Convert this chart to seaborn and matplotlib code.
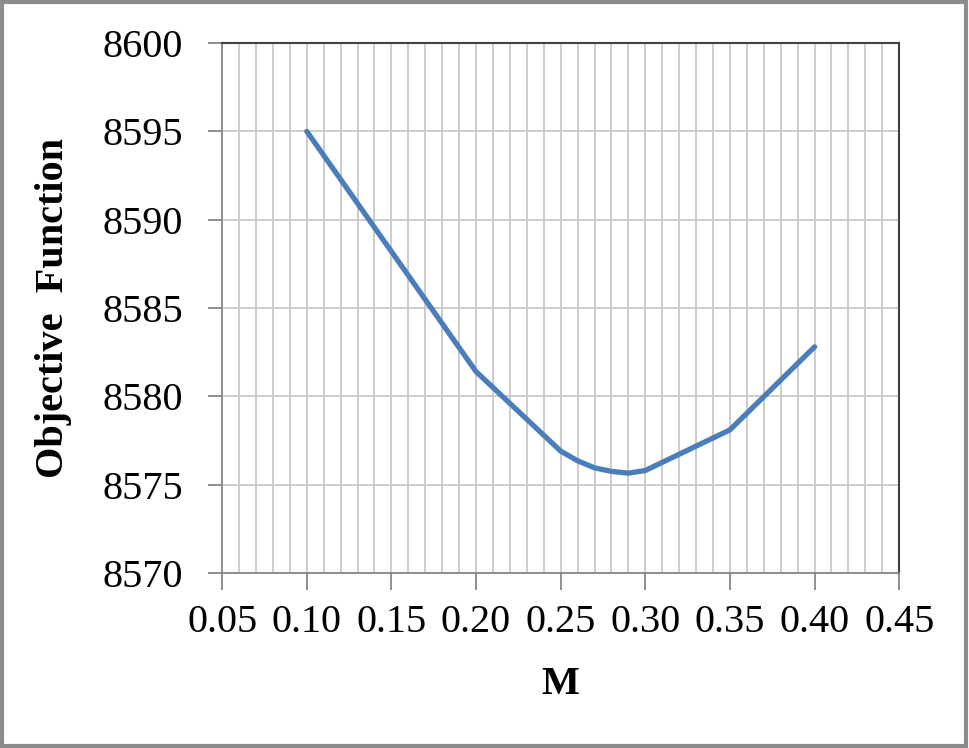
import matplotlib
matplotlib.use("Agg")
import matplotlib.pyplot as plt
import seaborn as sns
import pandas as pd
import numpy as np
from matplotlib.patches import Rectangle

m_values = [0.10, 0.20, 0.25, 0.26, 0.27, 0.28, 0.29, 0.30, 0.35, 0.40]
objective = [8595.0, 8581.4, 8576.9, 8576.35, 8575.95, 8575.75, 8575.65, 8575.8, 8578.1, 8582.8]
x_ticks = [0.05, 0.10, 0.15, 0.20, 0.25, 0.30, 0.35, 0.40, 0.45]
y_ticks = [8570, 8575, 8580, 8585, 8590, 8595, 8600]

df = pd.DataFrame({"M": m_values, "Objective Function": objective})

sns.set_style("white")
plt.rcParams['font.family'] = ['Liberation Serif', 'DejaVu Serif']
plt.rcParams['text.color'] = 'black'
plt.rcParams['axes.labelcolor'] = 'black'
plt.rcParams['xtick.labelcolor'] = 'black'
plt.rcParams['ytick.labelcolor'] = 'black'

fig = plt.figure(figsize=(9.7, 7.48), dpi=100)
ax = fig.add_axes([0.229, 0.234, 0.698, 0.7085])

sns.lineplot(data=df, x="M", y="Objective Function", ax=ax, color="#4A7EBB", linewidth=3.8,
             solid_capstyle="round", solid_joinstyle="round")

ax.set_xlim(0.05, 0.45)
ax.set_ylim(8570, 8600)
ax.set_xticks(x_ticks)
ax.set_xticklabels([f"{v:.2f}" for v in x_ticks])
ax.set_yticks(y_ticks)
ax.set_yticklabels([str(v) for v in y_ticks])
ax.set_xticks(np.round(np.arange(0.05, 0.451, 0.01), 2), minor=True)

ax.grid(True, which="both", axis="x", color="#C8C8C8", linewidth=1.3)
ax.grid(True, which="major", axis="y", color="#C8C8C8", linewidth=1.3)
ax.set_axisbelow(True)

for side in ["left", "bottom"]:
    ax.spines[side].set_color("#878787")
    ax.spines[side].set_linewidth(1.3)
    ax.spines[side].set_visible(True)
for side in ["top", "right"]:
    ax.spines[side].set_color("#404040")
    ax.spines[side].set_linewidth(1.5)
    ax.spines[side].set_visible(True)

ax.tick_params(axis="x", which="major", direction="out", length=12, width=1.3, color="#878787",
               labelsize=29, pad=10, bottom=True)
ax.tick_params(axis="x", which="minor", length=0)
ax.tick_params(axis="y", which="major", direction="out", length=10, width=1.3, color="#878787",
               labelsize=29, pad=18, left=True)

ax.set_xlabel("M", fontsize=29, fontweight="bold", labelpad=18)
ax.set_ylabel("Objective  Function", fontsize=29, fontweight="bold", labelpad=22)

fig.patches.append(Rectangle((0.002, 0.003), 0.994, 0.994, transform=fig.transFigure,
                             fill=False, edgecolor="#8C8C8C", linewidth=3))

fig.savefig("out.png", dpi=100)
